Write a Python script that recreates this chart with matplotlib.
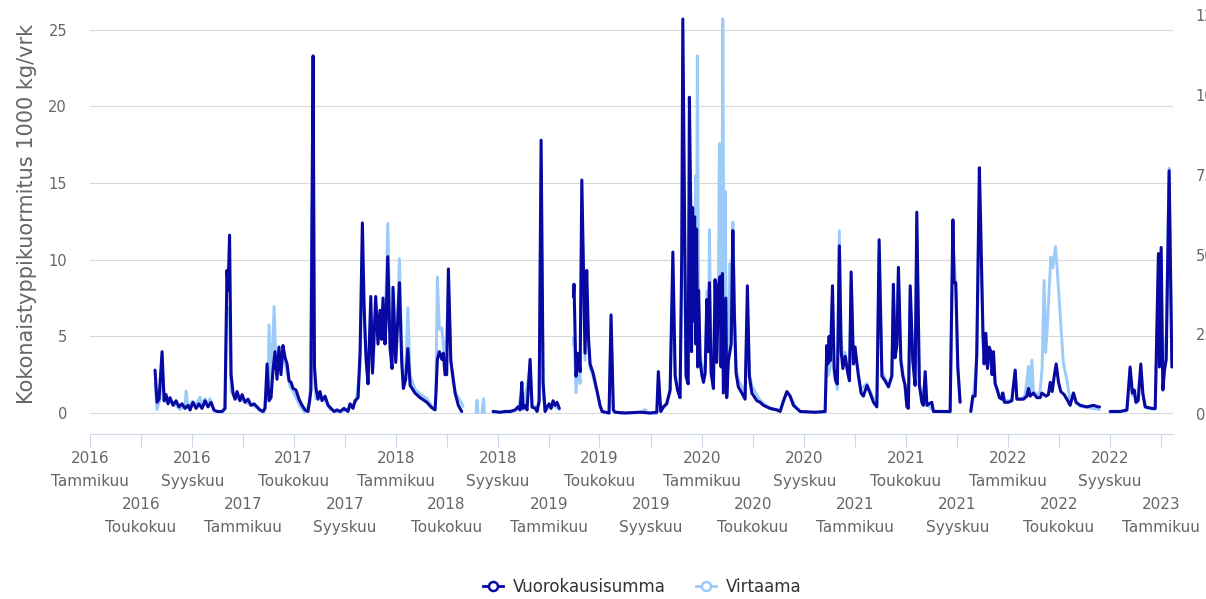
import numpy as np
import pandas as pd
import matplotlib
matplotlib.use("Agg")
from matplotlib import pyplot as plt
from matplotlib.lines import Line2D

# Aika desimaalivuosina (2016.0 = 1.1.2016), None = katko sarjassa

# Vuorokausisumma, 1000 kg/vrk (vasen akseli)
vrk_aika = [
    2016.425, 2016.438, 2016.451, 2016.471, 2016.484, 2016.497, 2016.510, 2016.523, 2016.543, 2016.562,
    2016.582, 2016.601, 2016.621, 2016.641, 2016.654, 2016.673, 2016.693, 2016.712, 2016.732, 2016.752,
    2016.771, 2016.791, 2016.810, 2016.830, 2016.863, 2016.882, 2016.895, 2016.902, 2016.912, 2016.922,
    2016.935, 2016.948, 2016.961, 2016.980, 2016.994, 2017.013, 2017.033, 2017.052, 2017.072, 2017.092,
    2017.111, 2017.131, 2017.144, 2017.157, 2017.170, 2017.183, 2017.196, 2017.209, 2017.222, 2017.235,
    2017.248, 2017.261, 2017.275, 2017.288, 2017.301, 2017.314, 2017.327, 2017.346, 2017.366, 2017.386,
    2017.405, 2017.425, 2017.444, 2017.451, 2017.458, 2017.467, 2017.477, 2017.490, 2017.503, 2017.516,
    2017.536, 2017.556, 2017.575, 2017.595, 2017.614, 2017.634, 2017.660, 2017.686, 2017.699, 2017.719,
    2017.732, 2017.752, 2017.765, 2017.780, 2017.791, 2017.804, 2017.817, 2017.835, 2017.846, 2017.867,
    2017.882, 2017.895, 2017.905, 2017.915, 2017.928, 2017.935, 2017.946, 2017.961, 2017.974, 2017.980,
    2017.998, 2018.011, 2018.022, 2018.037, 2018.048, 2018.063, 2018.077, 2018.092, 2018.124, 2018.157,
    2018.201, 2018.233, 2018.255, 2018.261, 2018.270, 2018.283, 2018.299, 2018.309, 2018.320, 2018.331,
    2018.342, 2018.358, 2018.371, 2018.386, 2018.407, 2018.429,
    2018.530,
    2018.634, 2018.680, 2018.712, 2018.745, 2018.778, 2018.797, 2018.811, 2018.822, 2018.830, 2018.843,
    2018.856, 2018.876, 2018.889, 2018.909, 2018.922, 2018.935, 2018.948, 2018.961, 2018.974, 2018.987,
    2019.000, 2019.013, 2019.026, 2019.039, 2019.052, 2019.067,
    2019.110,
    2019.159, 2019.163, 2019.176, 2019.190, 2019.203, 2019.214, 2019.222, 2019.235, 2019.246, 2019.257,
    2019.268, 2019.288, 2019.312, 2019.333, 2019.346, 2019.392, 2019.405, 2019.420, 2019.431, 2019.497,
    2019.595, 2019.660, 2019.704, 2019.714, 2019.730, 2019.747, 2019.769, 2019.791, 2019.809, 2019.824,
    2019.839, 2019.856, 2019.867, 2019.874, 2019.895, 2019.909, 2019.917, 2019.926, 2019.931, 2019.938,
    2019.944, 2019.951, 2019.958, 2019.964, 2019.971, 2019.977, 2019.987, 2019.998, 2020.009, 2020.020,
    2020.031, 2020.039, 2020.048, 2020.059, 2020.074, 2020.085, 2020.096, 2020.107, 2020.118, 2020.124,
    2020.133, 2020.139, 2020.155, 2020.161, 2020.172, 2020.190, 2020.201, 2020.211, 2020.222, 2020.237,
    2020.260, 2020.281, 2020.296, 2020.309, 2020.325, 2020.358, 2020.379, 2020.401, 2020.444, 2020.488,
    2020.510, 2020.529, 2020.554, 2020.575, 2020.597, 2020.619, 2020.641, 2020.739, 2020.804, 2020.815,
    2020.822, 2020.830, 2020.837, 2020.843, 2020.852, 2020.863, 2020.874, 2020.884, 2020.897, 2020.909,
    2020.920, 2020.935, 2020.952, 2020.963, 2020.974, 2020.989, 2021.000, 2021.011, 2021.022, 2021.039,
    2021.054, 2021.077, 2021.098, 2021.120, 2021.142, 2021.157, 2021.175, 2021.196, 2021.218, 2021.240,
    2021.250, 2021.261, 2021.273, 2021.283, 2021.299, 2021.312, 2021.327, 2021.338, 2021.348, 2021.360,
    2021.377, 2021.392, 2021.403, 2021.420, 2021.436, 2021.446, 2021.458, 2021.469, 2021.501, 2021.512,
    2021.621, 2021.639, 2021.647, 2021.658, 2021.671, 2021.686,
    2021.720,
    2021.756, 2021.769, 2021.784, 2021.795, 2021.812, 2021.819, 2021.835, 2021.843, 2021.854, 2021.865,
    2021.876, 2021.887, 2021.895, 2021.904, 2021.915, 2021.926, 2021.943, 2021.959, 2021.965, 2021.976,
    2022.002, 2022.024, 2022.046, 2022.057, 2022.100, 2022.122, 2022.133, 2022.144, 2022.165, 2022.188,
    2022.209, 2022.220, 2022.248, 2022.263, 2022.275, 2022.288, 2022.301, 2022.314, 2022.329, 2022.344,
    2022.366, 2022.384, 2022.405, 2022.427, 2022.444, 2022.471, 2022.514, 2022.558, 2022.588, 2022.597,
    2022.630,
    2022.667, 2022.732, 2022.776, 2022.797, 2022.812, 2022.824, 2022.835, 2022.850, 2022.867, 2022.880,
    2022.895, 2022.939, 2022.961, 2022.982, 2022.989, 2023.000, 2023.011, 2023.022, 2023.033, 2023.052,
    2023.070,
]
vrk_arvo = [
    2.8, 0.7, 0.9, 4.0, 0.8, 1.2, 0.6, 1.0, 0.5, 0.8,
    0.4, 0.6, 0.3, 0.5, 0.2, 0.7, 0.3, 0.6, 0.3, 0.8,
    0.4, 0.7, 0.2, 0.1, 0.1, 0.3, 9.3, 8.0, 11.6, 2.5,
    1.3, 0.9, 1.4, 0.8, 1.2, 0.7, 0.9, 0.5, 0.6, 0.4,
    0.2, 0.1, 0.3, 3.2, 0.8, 1.0, 2.8, 4.0, 2.2, 4.3,
    2.5, 4.4, 3.6, 3.2, 2.1, 2.0, 1.6, 1.5, 0.9, 0.5,
    0.2, 0.1, 1.5, 13.7, 23.3, 3.0, 1.6, 0.9, 1.4, 0.8,
    1.1, 0.5, 0.3, 0.1, 0.2, 0.1, 0.3, 0.1, 0.6, 0.3,
    0.8, 1.0, 4.0, 12.4, 7.0, 3.5, 1.9, 7.6, 2.6, 7.6,
    4.5, 6.7, 4.8, 7.5, 4.5, 6.0, 10.2, 4.2, 2.9, 8.2,
    3.3, 6.0, 8.5, 3.3, 1.6, 2.2, 4.2, 1.8, 1.3, 1.0,
    0.7, 0.35, 0.2, 1.3, 3.5, 4.0, 3.5, 3.9, 2.5, 2.5,
    9.4, 3.4, 2.4, 1.3, 0.5, 0.1,
    None,
    0.1, 0.05, 0.1, 0.1, 0.2, 0.4, 0.2, 2.0, 0.3, 0.5,
    0.2, 3.5, 0.4, 0.3, 0.1, 0.8, 17.8, 2.0, 0.1, 0.4,
    0.6, 0.3, 0.8, 0.5, 0.7, 0.3,
    None,
    7.6, 8.4, 2.4, 3.9, 2.7, 15.2, 11.0, 3.9, 9.3, 5.0,
    3.2, 2.6, 1.5, 0.5, 0.1, 0.0, 6.4, 0.2, 0.05, 0.0,
    0.05, 0.0, 0.05, 2.7, 0.1, 0.4, 0.6, 1.5, 10.5, 2.4,
    1.5, 1.0, 10.4, 25.7, 2.4, 1.9, 20.6, 13.2, 4.0, 13.4,
    6.0, 12.8, 4.5, 12.0, 3.0, 8.0, 3.4, 2.5, 2.0, 2.6,
    7.4, 4.0, 8.5, 2.6, 1.6, 8.7, 3.3, 8.3, 8.9, 3.0,
    9.1, 1.3, 7.5, 1.0, 3.4, 4.5, 11.9, 6.4, 2.6, 1.7,
    1.3, 0.9, 8.3, 2.4, 1.3, 0.8, 0.7, 0.5, 0.3, 0.2,
    0.1, 0.7, 1.4, 1.1, 0.5, 0.3, 0.1, 0.05, 0.1, 4.4,
    3.2, 5.0, 3.4, 5.1, 8.3, 2.9, 2.1, 1.9, 10.9, 4.0,
    2.9, 3.7, 2.6, 2.1, 9.2, 3.2, 4.3, 3.3, 2.4, 1.3,
    1.1, 1.8, 1.3, 0.7, 0.4, 11.3, 2.4, 2.1, 1.7, 2.4,
    8.4, 3.6, 4.4, 9.5, 3.4, 2.4, 1.8, 0.4, 0.3, 8.3,
    3.4, 1.8, 13.1, 1.8, 0.7, 0.5, 2.7, 0.5, 0.7, 0.1,
    0.1, 12.6, 8.5, 8.5, 3.0, 0.7,
    None,
    0.1, 1.1, 1.1, 3.9, 16.0, 13.0, 5.4, 3.2, 5.2, 2.9,
    4.3, 4.0, 2.5, 4.0, 1.9, 1.6, 1.0, 0.9, 1.3, 0.7,
    0.7, 0.8, 2.8, 0.9, 0.9, 1.1, 1.6, 1.1, 1.3, 1.0,
    1.0, 1.3, 1.1, 1.2, 2.0, 1.4, 2.4, 3.2, 2.0, 1.4,
    1.2, 0.9, 0.5, 1.3, 0.7, 0.5, 0.4, 0.5, 0.4, 0.4,
    None,
    0.1, 0.1, 0.2, 3.0, 1.3, 1.5, 0.7, 0.8, 3.2, 1.3,
    0.4, 0.3, 0.3, 10.4, 3.0, 10.8, 1.5, 2.8, 3.5, 15.8,
    3.0,
]

# Virtaama (oikea akseli)
vir_aika = [
    2016.425, 2016.438, 2016.458, 2016.471, 2016.490, 2016.523, 2016.556, 2016.588, 2016.621, 2016.628,
    2016.641, 2016.667, 2016.693, 2016.719, 2016.739, 2016.752, 2016.771, 2016.784, 2016.810, 2016.863,
    2016.882, 2016.895, 2016.912, 2016.922, 2016.948, 2016.980, 2017.013, 2017.046, 2017.078, 2017.111,
    2017.137, 2017.150, 2017.163, 2017.170, 2017.183, 2017.203, 2017.216, 2017.235, 2017.261, 2017.281,
    2017.307, 2017.340, 2017.373, 2017.405, 2017.438, 2017.451, 2017.461, 2017.477, 2017.503, 2017.536,
    2017.569, 2017.634, 2017.699, 2017.739, 2017.765, 2017.780, 2017.797, 2017.817, 2017.837, 2017.850,
    2017.869, 2017.882, 2017.902, 2017.915, 2017.928, 2017.946, 2017.961, 2017.974, 2017.984, 2018.000,
    2018.011, 2018.022, 2018.037, 2018.048, 2018.063, 2018.077, 2018.092, 2018.124, 2018.157, 2018.201,
    2018.233, 2018.255, 2018.261, 2018.270, 2018.283, 2018.299, 2018.309, 2018.320, 2018.342, 2018.358,
    2018.373, 2018.392, 2018.412, 2018.429, 2018.438,
    2018.480,
    2018.523, 2018.529, 2018.536,
    2018.550,
    2018.562, 2018.571, 2018.578,
    2018.600,
    2018.634, 2018.745, 2018.797, 2018.822, 2018.830, 2018.876, 2018.889, 2018.935, 2018.948, 2018.961,
    2018.974, 2019.007, 2019.039, 2019.067,
    2019.110,
    2019.159, 2019.163, 2019.176, 2019.190, 2019.203, 2019.214, 2019.222, 2019.235, 2019.246, 2019.257,
    2019.268, 2019.288, 2019.314, 2019.333, 2019.353, 2019.392, 2019.405, 2019.420, 2019.464, 2019.595,
    2019.628, 2019.647, 2019.704, 2019.714, 2019.730, 2019.758, 2019.791, 2019.809, 2019.824, 2019.843,
    2019.856, 2019.867, 2019.874, 2019.895, 2019.909, 2019.917, 2019.928, 2019.938, 2019.948, 2019.958,
    2019.964, 2019.969, 2019.977, 2019.987, 2020.000, 2020.013, 2020.023, 2020.033, 2020.043, 2020.048,
    2020.059, 2020.074, 2020.085, 2020.096, 2020.105, 2020.113, 2020.121, 2020.128, 2020.135, 2020.144,
    2020.150, 2020.161, 2020.172, 2020.183, 2020.190, 2020.201, 2020.211, 2020.222, 2020.237, 2020.260,
    2020.281, 2020.296, 2020.309, 2020.327, 2020.360, 2020.379, 2020.412, 2020.444, 2020.490, 2020.510,
    2020.529, 2020.554, 2020.575, 2020.608, 2020.641, 2020.739, 2020.804, 2020.815, 2020.824, 2020.837,
    2020.852, 2020.863, 2020.884, 2020.897, 2020.908, 2020.922, 2020.935, 2020.954, 2020.963, 2020.974,
    2020.989, 2021.000, 2021.022, 2021.039, 2021.077, 2021.098, 2021.142, 2021.157, 2021.175, 2021.196,
    2021.218, 2021.240, 2021.250, 2021.261, 2021.283, 2021.299, 2021.314, 2021.338, 2021.348, 2021.360,
    2021.377, 2021.392, 2021.403, 2021.420, 2021.438, 2021.458, 2021.471, 2021.512, 2021.621, 2021.639,
    2021.658, 2021.671, 2021.686,
    2021.720,
    2021.756, 2021.773, 2021.795, 2021.812, 2021.819, 2021.835, 2021.843, 2021.854, 2021.865, 2021.887,
    2021.904, 2021.915, 2021.943, 2021.965, 2021.980, 2022.024, 2022.046, 2022.057, 2022.085, 2022.111,
    2022.133, 2022.144, 2022.155, 2022.165, 2022.188, 2022.209, 2022.222, 2022.235, 2022.245, 2022.255,
    2022.268, 2022.279, 2022.292, 2022.309, 2022.320, 2022.340, 2022.361, 2022.384, 2022.405, 2022.427,
    2022.444, 2022.471, 2022.536, 2022.597,
    2022.630,
    2022.667, 2022.776, 2022.797, 2022.812, 2022.824, 2022.837, 2022.867, 2022.882, 2022.902, 2022.961,
    2022.982, 2022.989, 2023.000, 2023.011, 2023.022, 2023.033, 2023.052, 2023.070,
]
vir_arvo = [
    9.6, 1.4, 4.8, 14.5, 3.9, 3.9, 2.9, 1.4, 2.4, 7.2,
    1.9, 3.9, 2.9, 5.3, 2.4, 4.8, 2.9, 4.8, 1.0, 0.5,
    1.4, 33.7, 28.9, 7.2, 4.8, 4.8, 3.9, 2.9, 2.4, 1.0,
    0.5, 7.2, 4.8, 28.0, 7.2, 33.7, 14.5, 16.9, 18.3, 14.5,
    8.7, 5.8, 2.4, 0.5, 3.9, 65.0, 14.5, 4.8, 5.8, 4.3,
    1.4, 0.5, 1.9, 3.9, 14.5, 48.2, 24.1, 12.0, 31.3, 14.5,
    33.7, 24.1, 28.9, 31.3, 24.1, 59.8, 26.5, 19.3, 38.6, 21.7,
    31.3, 48.7, 21.7, 9.6, 13.5, 33.3, 12.0, 7.7, 6.3, 4.8,
    2.4, 1.4, 9.6, 42.9, 26.5, 27.0, 21.7, 14.5, 38.6, 16.9,
    9.6, 6.3, 4.8, 3.4, 2.4,
    None,
    0.5, 4.3, 0.5,
    None,
    0.5, 4.8, 0.5,
    None,
    0.5, 0.5, 1.4, 7.2, 1.4, 14.5, 1.9, 2.9, 77.1, 7.2,
    1.0, 2.4, 2.4, 1.4,
    None,
    21.7, 24.1, 6.7, 14.5, 9.6, 65.1, 48.2, 16.9, 41.0, 21.7,
    14.5, 11.6, 6.7, 2.4, 0.5, 0.2, 26.5, 1.0, 0.2, 0.5,
    1.4, 0.2, 0.2, 9.6, 1.0, 2.4, 6.7, 43.4, 12.0, 7.7,
    6.3, 43.4, 86.8, 14.5, 12.0, 67.5, 43.4, 53.0, 38.6, 74.7,
    48.2, 112.3, 38.6, 19.3, 14.5, 12.0, 16.9, 38.6, 21.7, 57.8,
    14.5, 9.6, 36.1, 19.3, 28.9, 84.8, 38.6, 24.1, 123.9, 28.9,
    69.9, 14.5, 24.1, 47.2, 24.1, 60.2, 33.7, 14.5, 10.6, 8.7,
    6.3, 33.7, 12.5, 8.7, 5.8, 4.3, 2.9, 1.9, 1.4, 1.0,
    3.9, 6.7, 5.8, 2.4, 0.7, 0.5, 0.5, 18.3, 12.0, 14.5,
    36.1, 12.0, 7.7, 57.4, 24.1, 16.9, 19.3, 13.5, 10.6, 41.0,
    16.9, 19.3, 12.5, 7.7, 9.6, 7.2, 2.9, 50.6, 13.5, 11.1,
    9.2, 12.5, 37.6, 18.3, 43.4, 17.4, 12.5, 2.9, 1.9, 36.1,
    16.9, 9.6, 57.8, 9.6, 3.9, 11.6, 2.9, 1.0, 0.5, 55.4,
    38.6, 14.5, 3.9,
    None,
    1.0, 5.8, 16.9, 67.5, 57.8, 24.1, 16.9, 24.1, 14.5, 19.3,
    18.3, 9.6, 5.8, 6.7, 4.3, 4.3, 13.5, 4.8, 4.8, 5.8,
    14.9, 5.8, 16.9, 7.2, 5.8, 7.2, 14.5, 41.9, 19.3, 26.5,
    38.6, 49.2, 45.8, 52.5, 45.8, 31.3, 15.9, 10.6, 4.3, 6.7,
    3.4, 2.4, 1.9, 1.4,
    None,
    0.5, 1.0, 12.0, 5.8, 6.3, 3.4, 13.5, 5.8, 1.9, 1.4,
    43.4, 19.3, 45.8, 12.0, 19.3, 24.1, 77.1, 16.9,
]

vasen_tikit = [0, 5, 10, 15, 20, 25]
oikea_tikit = [0, 25, 50, 75, 100, 125]
kuukaudet = {1: "Tammikuu", 5: "Toukokuu", 9: "Syyskuu"}

ALKU = pd.Timestamp("2016-01-01")


def to_dates(vuodet):
    v = np.array(vuodet, dtype=float)
    return (ALKU + pd.to_timedelta((v - 2016) * 365.25, unit="D")).values


def to_values(arvot):
    return np.array([np.nan if a is None else a for a in arvot], dtype=float)


TUMMA = "#0808a2"
VAALEA = "#9ccbfa"
HARMAA = "#666666"
AKSELI = "#ccd6eb"

fig = plt.figure(figsize=(12.06, 5.99), dpi=100)
ax = fig.add_axes([90 / 1206, 165 / 599, 1083 / 1206, 428.3 / 599])
ax2 = ax.twinx()

# vaalea sarja alle, tumma päälle (molemmat ylemmälle akselille, ruudukko jää alle)
ax2.plot(to_dates(vir_aika), to_values(vir_arvo), color=VAALEA, lw=2.1,
         solid_joinstyle="round", solid_capstyle="round")
ax2.plot(to_dates(vrk_aika), to_values(vrk_arvo), color=TUMMA, lw=2.2,
         solid_joinstyle="round", solid_capstyle="round", transform=ax.transData)

ax.set_xlim(ALKU, ALKU + pd.Timedelta(days=2585))
ax.set_ylim(-1.37, 26.57)
ax2.set_ylim(-6.27, 128.0)

ax.set_yticks(vasen_tikit)
ax.set_yticklabels([str(t) for t in vasen_tikit])
ax.yaxis.grid(True, color="#d8d8d8", lw=0.8)
ax.set_axisbelow(True)
ax.tick_params(axis="y", length=0, pad=16.5, labelsize=10.5, labelcolor=HARMAA)

ax2.set_yticks(oikea_tikit)
ax2.set_yticklabels([str(t) for t in oikea_tikit])
ax2.tick_params(axis="y", length=0, pad=16.5, labelsize=10.5, labelcolor=HARMAA)

for a in (ax, ax2):
    for s in ("top", "left", "right"):
        a.spines[s].set_visible(False)
ax2.spines["bottom"].set_visible(False)
ax.spines["bottom"].set_color(AKSELI)
ax.spines["bottom"].set_linewidth(0.8)

tikit = pd.date_range("2016-01-01", "2023-01-01", freq="4MS")
ax.set_xticks(tikit)
ax.tick_params(axis="x", length=9.4, color=AKSELI, width=0.8, labelbottom=False)

for i, d in enumerate(tikit):
    siirto = 0 if i % 2 == 0 else 46
    ax.annotate(str(d.year), xy=(d, 0), xycoords=("data", "axes fraction"),
                xytext=(0, -(29 + siirto) * 0.72), textcoords="offset points",
                ha="center", va="baseline", fontsize=11, color=HARMAA, annotation_clip=False)
    ax.annotate(kuukaudet[d.month], xy=(d, 0), xycoords=("data", "axes fraction"),
                xytext=(0, -(52 + siirto) * 0.72), textcoords="offset points",
                ha="center", va="baseline", fontsize=11, color=HARMAA, annotation_clip=False)

fig.text(27 / 1206, 1 - 214 / 599, "Kokonaistyppikuormitus 1000 kg/vrk", rotation=90,
         ha="center", va="center", fontsize=15, color=HARMAA)

kahvat = [
    Line2D([], [], color=TUMMA, lw=2, marker="o", ms=6.5, mfc="white", mew=1.8),
    Line2D([], [], color=VAALEA, lw=2, marker="o", ms=6.5, mfc="white", mew=1.8),
]
fig.legend(kahvat, ["Vuorokausisumma", "Virtaama"], loc="center",
           bbox_to_anchor=(642 / 1206, 12 / 599), ncol=2, frameon=False, fontsize=12,
           handlelength=1.2, handletextpad=0.6, columnspacing=1.8, labelcolor="#333333")

fig.savefig("out.png", dpi=100)
